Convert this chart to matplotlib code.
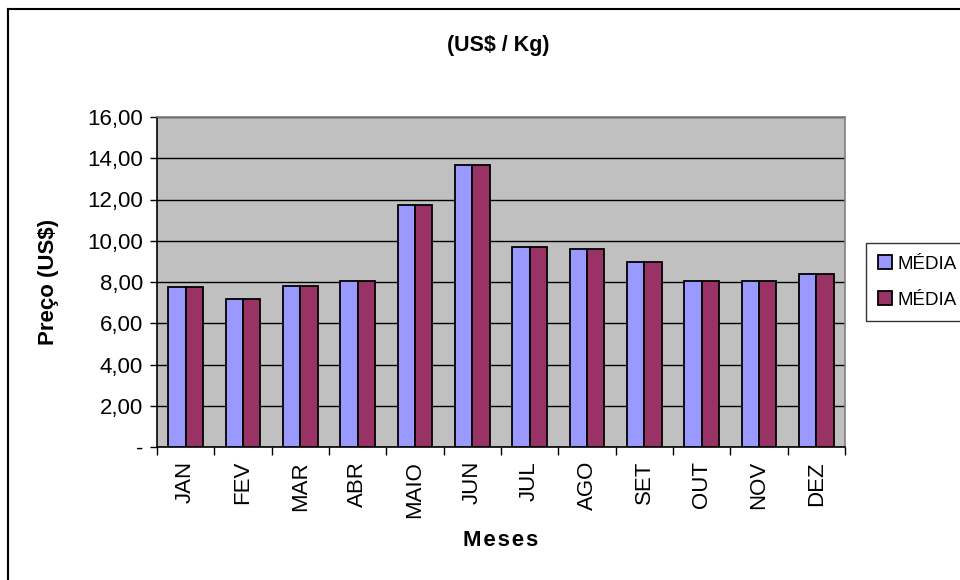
import matplotlib
matplotlib.use("Agg")
import matplotlib.pyplot as plt
import numpy as np
from matplotlib.lines import Line2D
from matplotlib.ticker import FixedLocator, FuncFormatter

plt.rcParams['font.family'] = ['Liberation Sans', 'DejaVu Sans']

# Data
meses = ['JAN', 'FEV', 'MAR', 'ABR', 'MAIO', 'JUN', 'JUL', 'AGO', 'SET', 'OUT', 'NOV', 'DEZ']
media_1 = [7.75, 7.17, 7.83, 8.03, 11.71, 13.65, 9.69, 9.58, 8.98, 8.03, 8.03, 8.41]
media_2 = [7.75, 7.17, 7.83, 8.03, 11.71, 13.65, 9.69, 9.58, 8.98, 8.03, 8.03, 8.41]
serie_nomes = ['MÉDIA', 'MÉDIA']
y_ticks = [0, 2, 4, 6, 8, 10, 12, 14, 16]

fig = plt.figure(figsize=(9.6, 5.8), dpi=100)
ax = fig.add_axes([157 / 960, 1 - 447 / 580, 688 / 960, 330 / 580])
ax.set_facecolor('#C0C0C0')

x = np.arange(len(meses))
w = 0.3
ax.bar(x - w / 2, media_1, w, color='#9999FF', edgecolor='black', linewidth=1.3,
       label=serie_nomes[0], zorder=3)
ax.bar(x + w / 2, media_2, w, color='#993366', edgecolor='black', linewidth=1.3,
       label=serie_nomes[1], zorder=3)

ax.set_xlim(-0.5, len(meses) - 0.5)
ax.set_ylim(0, 16)

# y axis
ax.set_yticks(y_ticks)
ax.yaxis.set_major_formatter(FuncFormatter(
    lambda v, p: '-' if v == 0 else f'{v:.2f}'.replace('.', ',')))
ax.yaxis.grid(True, color='black', linewidth=1, zorder=1)
ax.set_axisbelow(True)
ax.tick_params(axis='y', length=5, width=1, labelsize=16, pad=5)

# x axis: labels at centres, ticks at boundaries
ax.set_xticks(x)
ax.set_xticklabels(meses, rotation=90, fontsize=16)
ax.tick_params(axis='x', which='major', length=0, pad=10)
ax.xaxis.set_minor_locator(FixedLocator(np.arange(-0.5, len(meses), 1)))
ax.tick_params(axis='x', which='minor', length=6, width=1)

for side in ['top', 'right']:
    ax.spines[side].set_color('#808080')
    ax.spines[side].set_linewidth(1.2)
for side in ['left', 'bottom']:
    ax.spines[side].set_color('black')
    ax.spines[side].set_linewidth(1.2)

ax.set_ylabel('Preço (US$)', fontsize=16, fontweight='bold')
ax.yaxis.set_label_coords(-0.142, 0.5)
ax.set_xlabel('M e s e s'.replace(' ', '\u200a'), fontsize=16, fontweight='bold')
ax.xaxis.set_label_coords(0.5, -0.25)

fig.text(498 / 960, 1 - 45 / 580, '(US$ / Kg)', ha='center', va='center',
         fontsize=15.5, fontweight='bold')

leg = ax.legend(loc='upper left', bbox_to_anchor=(866 / 960, 1 - 243 / 580),
                bbox_transform=fig.transFigure, frameon=True, fancybox=False,
                fontsize=13.5, handlelength=0.75, handleheight=0.75,
                handletextpad=0.3, borderpad=0.65, labelspacing=1.0,
                borderaxespad=0)
leg.get_frame().set_edgecolor('black')
leg.get_frame().set_linewidth(1)

# outer chart border (left and top visible)
fig.add_artist(Line2D([8 / 960, 8 / 960], [0, 1 - 9 / 580], color='black', linewidth=1.5,
                      transform=fig.transFigure))
fig.add_artist(Line2D([8 / 960, 1], [1 - 9 / 580, 1 - 9 / 580], color='black', linewidth=1.5,
                      transform=fig.transFigure))

fig.savefig('out.png', dpi=100)
